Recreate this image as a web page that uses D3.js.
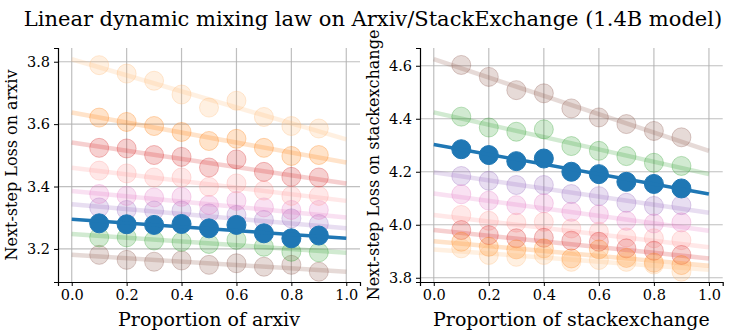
<!DOCTYPE html>
<html>
<head>
<meta charset="utf-8">
<script src="https://cdn.jsdelivr.net/npm/d3@7"></script>
<style>
body{margin:0;background:#fff;}
text{font-family:"DejaVu Serif",serif;fill:#000;}
</style>
</head>
<body>
<div id="chart"></div>
<script>
// proportions used for every run
var props = [0.1,0.2,0.3,0.4,0.5,0.6,0.7,0.8,0.9]
var seriesColors = ["#8c564b","#2ca02c","#1f77b4","#9467bd","#e377c2","#ff9896","#d62728","#ff7f0e","#ffbb78"]
var highlight = 2

// arxiv panel
var arxivLoss = [
    [3.181,3.165,3.159,3.163,3.149,3.154,3.143,3.149,3.127],
    [3.237,3.237,3.227,3.223,3.216,3.229,3.207,3.191,3.189],
    [3.282,3.279,3.277,3.280,3.266,3.277,3.250,3.234,3.243],
    [3.333,3.325,3.323,3.323,3.314,3.309,3.293,3.298,3.280],
    [3.376,3.370,3.365,3.367,3.341,3.354,3.333,3.325,3.325],
    [3.451,3.442,3.429,3.429,3.399,3.410,3.387,3.370,3.370],
    [3.524,3.522,3.501,3.495,3.461,3.487,3.447,3.431,3.429],
    [3.621,3.607,3.594,3.575,3.546,3.553,3.524,3.498,3.501],
    [3.789,3.762,3.739,3.695,3.653,3.675,3.623,3.594,3.586]
]
// fitted line value at proportion 0 and 1
var arxivFit = [
    [3.181,3.127],[3.248,3.188],[3.295,3.234],[3.343,3.266],[3.386,3.301],
    [3.460,3.354],[3.541,3.410],[3.637,3.477],[3.808,3.551]
]
var arxivTicks = [3.2,3.4,3.6,3.8]

// stackexchange panel
var seLoss = [
    [4.603,4.558,4.508,4.496,4.439,4.405,4.380,4.354,4.330],
    [4.408,4.367,4.351,4.360,4.297,4.279,4.259,4.234,4.222],
    [4.285,4.263,4.240,4.250,4.200,4.191,4.162,4.154,4.137],
    [4.184,4.166,4.150,4.150,4.116,4.108,4.083,4.071,4.074],
    [4.115,4.091,4.074,4.081,4.049,4.039,4.015,4.005,4.009],
    [4.037,4.015,4.008,4.011,3.986,3.974,3.952,3.949,3.942],
    [3.980,3.961,3.949,3.951,3.940,3.936,3.911,3.902,3.886],
    [3.936,3.917,3.907,3.911,3.873,3.907,3.875,3.857,3.848],
    [3.911,3.886,3.879,3.886,3.860,3.867,3.860,3.850,3.823]
]
var seFit = [
    [4.625,4.279],[4.424,4.191],[4.303,4.116],[4.198,4.045],[4.118,3.977],
    [4.037,3.915],[3.980,3.873],[3.938,3.845],[3.907,3.830]
]
var seTicks = [3.8,4.0,4.2,4.4,4.6]

var xTicks = [0,0.2,0.4,0.6,0.8,1.0]

var width = 747
var height = 336
var svg = d3.select("#chart").append("svg")
    .attr("width",width)
    .attr("height",height)

svg.append("text")
    .attr("x",373)
    .attr("y",26)
    .attr("text-anchor","middle")
    .style("font-size","21px")
    .text("Linear dynamic mixing law on Arxiv/StackExchange (1.4B model)")

function panel(left,right,yDomain,loss,fit,yTicks,xLabel,yLabel){
    var top = 48, bottom = 282
    var scaleX = d3.scaleLinear().domain([-0.05,1.05]).range([left,right])
    var scaleY = d3.scaleLinear().domain(yDomain).range([bottom,top])
    var g = svg.append("g")

    // grid
    g.selectAll("line.gx").data(xTicks).enter().append("line")
        .attr("x1",d=>scaleX(d)).attr("x2",d=>scaleX(d))
        .attr("y1",top).attr("y2",bottom)
        .style("stroke","#b0b0b0").style("stroke-width",1.2).style("opacity",0.8)
    g.selectAll("line.gy").data(yTicks).enter().append("line")
        .attr("x1",left).attr("x2",right)
        .attr("y1",d=>scaleY(d)).attr("y2",d=>scaleY(d))
        .style("stroke","#b0b0b0").style("stroke-width",1.2).style("opacity",0.8)

    var line = d3.line().x(d=>scaleX(d[0])).y(d=>scaleY(d[1]))
    var order = d3.range(loss.length).filter(i=>i!=highlight).concat([highlight])
    order.forEach(i=>{
        var c = seriesColors[i]
        var hi = i==highlight
        var pts = props.map((p,k)=>[p,loss[i][k]])
        g.append("g").selectAll("circle").data(pts).enter().append("circle")
            .attr("cx",d=>scaleX(d[0]))
            .attr("cy",d=>scaleY(d[1]))
            .attr("r",9.5)
            .style("fill",c)
            .style("fill-opacity",hi?1:0.22)
            .style("stroke",c)
            .style("stroke-opacity",hi?1:0.3)
            .style("stroke-width",1)
        g.append("path")
            .attr("d",line([[0,fit[i][0]],[1,fit[i][1]]]))
            .style("fill","none")
            .style("stroke",c)
            .style("stroke-width",hi?3.5:4.5)
            .style("stroke-opacity",hi?1:0.22)
    })

    var ax = d3.axisBottom(scaleX).tickValues(xTicks).tickFormat(d3.format(".1f")).tickSizeOuter(0).tickSize(4).tickPadding(4)
    var ay = d3.axisLeft(scaleY).tickValues(yTicks).tickFormat(d3.format(".1f")).tickSizeOuter(0).tickSize(4).tickPadding(4)
    var gx = g.append("g").attr("transform","translate(0,"+bottom+")").call(ax)
    var gy = g.append("g").attr("transform","translate("+left+",0)").call(ay)
    gx.selectAll("text").style("font-size","14.5px").style("font-family","DejaVu Serif")
    gy.selectAll("text").style("font-size","14.5px").style("font-family","DejaVu Serif")
    g.selectAll(".domain").style("stroke","#000").style("stroke-width",1.2)
    g.selectAll(".tick line").style("stroke","#000").style("stroke-width",1)

    g.append("text")
        .attr("x",(scaleX(0)+scaleX(1))/2)
        .attr("y",326)
        .attr("text-anchor","middle")
        .style("font-size","19px")
        .text(xLabel)
    g.append("text")
        .attr("transform","translate("+(left-41)+","+((top+bottom)/2)+") rotate(-90)")
        .attr("text-anchor","middle")
        .style("font-size","16px")
        .text(yLabel)
}

panel(58,360,[3.094,3.844],arxivLoss,arxivFit,arxivTicks,"Proportion of arxiv","Next-step Loss on arxiv")
panel(420,722.7,[3.784,4.667],seLoss,seFit,seTicks,"Proportion of stackexchange","Next-step Loss on stackexchange")
</script>
</body>
</html>
